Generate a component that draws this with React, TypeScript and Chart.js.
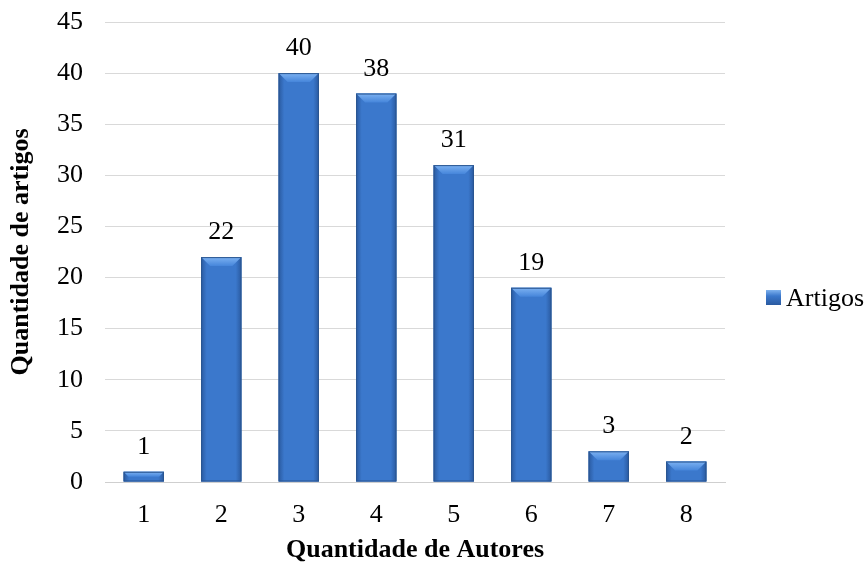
import React, { useEffect, useRef } from "react";
import { Chart, registerables } from "chart.js";

Chart.register(...registerables);

const categories = ["1", "2", "3", "4", "5", "6", "7", "8"];
const artigos = [1, 22, 40, 38, 31, 19, 3, 2];
const seriesName = "Artigos";
const xTitle = "Quantidade de Autores";
const yTitle = "Quantidade de artigos";
const yMin = 0;
const yMax = 45;
const yStep = 5;

const FONT = "'Liberation Serif', 'Times New Roman', serif";

const barStylePlugin = {
  id: "barStyle",
  afterDatasetsDraw(chart: any) {
    const ctx = chart.ctx;
    const meta = chart.getDatasetMeta(0);
    ctx.save();
    meta.data.forEach((bar: any, i: number) => {
      const { x, y, base, width } = bar.getProps(["x", "y", "base", "width"], true);
      const x0 = x - width / 2;
      const x1 = x + width / 2;
      const h = base - y;
      // body gradient
      const g = ctx.createLinearGradient(x0, 0, x1, 0);
      g.addColorStop(0, "#2a5aa0");
      g.addColorStop(0.14, "#3b78cc");
      g.addColorStop(0.86, "#3b78cc");
      g.addColorStop(1, "#2a5aa0");
      ctx.fillStyle = g;
      ctx.fillRect(x0, y, width, h);
      // top bevel
      const b = Math.min(9, h / 2);
      const tg = ctx.createLinearGradient(0, y, 0, y + b);
      tg.addColorStop(0, "#7db2f2");
      tg.addColorStop(1, "#4585da");
      ctx.fillStyle = tg;
      ctx.beginPath();
      ctx.moveTo(x0, y);
      ctx.lineTo(x1, y);
      ctx.lineTo(x1 - b, y + b);
      ctx.lineTo(x0 + b, y + b);
      ctx.closePath();
      ctx.fill();
      // border
      ctx.strokeStyle = "#2a5590";
      ctx.lineWidth = 1;
      ctx.strokeRect(x0 + 0.5, y + 0.5, width - 1, h - 1);
      // data label
      ctx.fillStyle = "#000";
      ctx.font = `26px ${FONT}`;
      ctx.textAlign = "center";
      ctx.textBaseline = "alphabetic";
      ctx.fillText(String(artigos[i]), x, y - 18);
    });
    // legend
    const lx = 766;
    const ly = 290;
    const lg = ctx.createLinearGradient(lx, ly, lx, ly + 15);
    lg.addColorStop(0, "#7fb2ee");
    lg.addColorStop(0.4, "#3b78cc");
    lg.addColorStop(1, "#2a5aa0");
    ctx.fillStyle = lg;
    ctx.fillRect(lx, ly, 15, 15);
    ctx.fillStyle = "#000";
    ctx.font = `26px ${FONT}`;
    ctx.textAlign = "left";
    ctx.textBaseline = "alphabetic";
    ctx.fillText(seriesName, 786, 306);
    ctx.restore();
  },
};

export default function App() {
  const ref = useRef<HTMLCanvasElement>(null);
  useEffect(() => {
    if (!ref.current) return;
    const chart = new Chart(ref.current, {
      type: "bar",
      data: {
        labels: categories,
        datasets: [
          {
            label: seriesName,
            data: artigos,
            backgroundColor: "#3b78cc",
            borderWidth: 0,
            barPercentage: 0.52,
            categoryPercentage: 1,
          },
        ],
      },
      options: {
        responsive: false,
        animation: false,
        layout: { padding: { top: 22, right: 142, left: 0, bottom: 0 } },
        plugins: {
          legend: { display: false },
          tooltip: { enabled: false },
        },
        scales: {
          x: {
            grid: { display: false, drawTicks: false },
            border: { display: true, color: "#cfcfcf", width: 1 },
            ticks: { color: "#000", font: { family: FONT, size: 26 }, padding: 18 },
            title: {
              display: true,
              text: xTitle,
              color: "#000",
              font: { family: FONT, size: 26, weight: "bold" },
              padding: { top: 0, bottom: 0 },
            },
            afterFit: (scale: any) => {
              scale.height = 84;
            },
          },
          y: {
            min: yMin,
            max: yMax,
            grid: { color: "#d9d9d9", drawTicks: false },
            border: { display: false },
            ticks: {
              stepSize: yStep,
              color: "#000",
              font: { family: FONT, size: 26 },
              padding: 22,
            },
            title: {
              display: true,
              text: yTitle,
              color: "#000",
              font: { family: FONT, size: 26, weight: "bold" },
              padding: { top: 6, bottom: 0 },
            },
            afterFit: (scale: any) => {
              scale.width = 105;
              scale.paddingTop = 0;
              scale.paddingBottom = 0;
            },
          },
        },
      },
      plugins: [barStylePlugin],
    });
    return () => chart.destroy();
  }, []);
  return (
    <canvas
      ref={ref}
      width={867}
      height={566}
      style={{ position: "absolute", left: 0, top: 0, width: 867, height: 566 }}
    />
  );
}
